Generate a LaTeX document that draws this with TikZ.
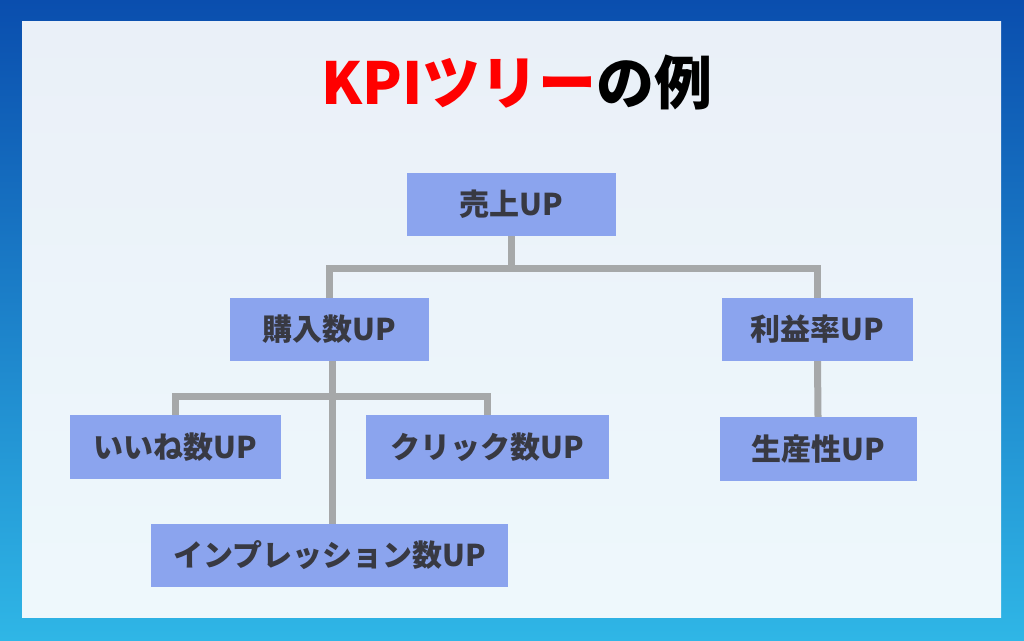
\documentclass[tikz,border=0pt]{standalone}
\usepackage{fontspec}
\newfontfamily\jp{Noto Sans CJK JP}
\definecolor{bgtop}{HTML}{0A4EAE}
\definecolor{bgbot}{HTML}{2FB6E6}
\definecolor{paneltop}{HTML}{EAF0F8}
\definecolor{panelbot}{HTML}{EEF8FC}
\definecolor{boxfill}{HTML}{8BA4EE}
\definecolor{txt}{HTML}{383942}
\definecolor{conn}{HTML}{A6A8A9}
\definecolor{titlered}{HTML}{FF0000}
\pgfdeclarelayer{bglayer}
\pgfdeclarelayer{linelayer}
\pgfsetlayers{bglayer,linelayer,main}
\tikzset{
  kpibox/.style={fill=boxfill, draw=none, text=txt, inner sep=0pt,
    font=\jp\bfseries\fontsize{30}{30}\selectfont, minimum height=63pt},
  link/.style={draw=conn, line width=7pt, line join=miter, line cap=butt}
}
\begin{document}
\begin{tikzpicture}[x=1pt,y=-1pt]
\useasboundingbox (0,0) rectangle (1024,640);
\begin{pgfonlayer}{bglayer}
\shade[top color=bgtop, bottom color=bgbot] (0,0) rectangle (1024,640);
\shade[top color=paneltop, bottom color=panelbot] (22,21) rectangle (1001,617);
\end{pgfonlayer}

\node (title) at (517,82) {\jp\bfseries\fontsize{58}{58}\selectfont\textcolor{titlered}{KPIツリー}の例};

% nodes
\node[kpibox, minimum width=209pt] (sales) at (511.5,204.5) {売上UP};
\node[kpibox, minimum width=199pt] (buy) at (329.5,329.5) {購入数UP};
\node[kpibox, minimum width=191pt] (profit) at (817.5,329.5) {利益率UP};
\node[kpibox, minimum width=211pt, minimum height=64pt] (like) at (175.5,447) {いいね数UP};
\node[kpibox, minimum width=243pt, minimum height=64pt] (click) at (487.5,447) {クリック数UP};
\node[kpibox, minimum width=197pt, minimum height=64pt] (prod) at (818,449) {生産性UP};
\node[kpibox, minimum width=357pt] (imp) at (329.5,555.5) {インプレッション数UP};

% connectors (behind boxes)
\coordinate (j1) at (sales.south |- 0,268);
\coordinate (j2) at ([xshift=3pt]buy.south |- 0,396);
\begin{pgfonlayer}{linelayer}
\draw[link] (sales.south) -- (j1);
\draw[link] (buy.north) |- (j1) -| (profit.north);
\draw[link] (profit.south) -- (prod.north);
\draw[link] ([xshift=3pt]buy.south) -- ([xshift=3pt]imp.north);
\draw[link] (like.north) |- (j2) -| (click.north);
\end{pgfonlayer}
\end{tikzpicture}
\end{document}
